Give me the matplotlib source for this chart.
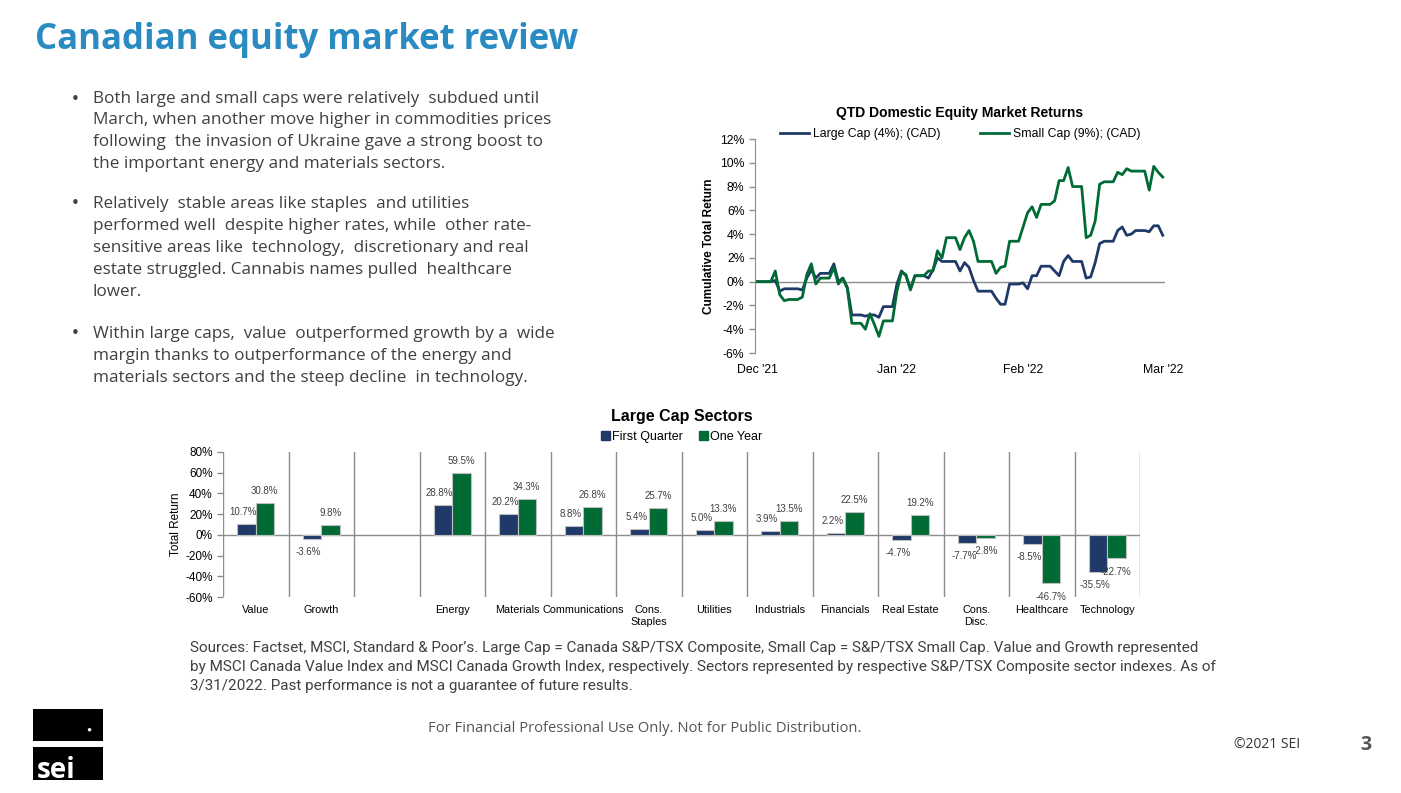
import numpy as np
import pandas as pd
import matplotlib
matplotlib.use('Agg')
import matplotlib.pyplot as plt
import matplotlib.dates as mdates
from matplotlib.patches import Patch, Rectangle
from matplotlib.ticker import FuncFormatter

# ==========================================
# data
# ==========================================
# QTD cumulative returns (%), days since 2021-12-31
day_offsets = [0, 3, 4, 5, 6, 7, 9, 10, 11, 12, 13, 14, 16, 17, 18, 19, 20, 21, 23, 24,
               25, 26, 27, 28, 30, 31, 32, 33, 34, 35, 37, 38, 39, 40, 41, 42, 44, 45, 46, 47,
               48, 49, 52, 53, 54, 55, 56, 58, 59, 60, 61, 62, 63, 65, 66, 67, 68, 69, 70, 72,
               73, 74, 75, 76, 77, 79, 80, 81, 82, 83, 84, 86, 87, 88, 89, 90]
large_cap = [0.0, 0.0, 0.1, -0.8, -0.6, -0.6, -0.6, -0.7, 0.3, 1.0, 0.3, 0.7, 0.7, 1.5, 0.0, 0.3, -0.5, -2.8, -2.8, -2.9,
             -2.8, -2.8, -3.0, -2.1, -2.1, -0.2, 0.9, 0.5, -0.6, 0.5, 0.5, 0.3, 1.0, 2.0, 1.7, 1.7, 1.7, 0.9, 1.6, 1.2,
             0.1, -0.8, -0.8, -1.4, -1.9, -1.9, -0.2, -0.2, -0.1, -0.6, 0.5, 0.5, 1.3, 1.3, 0.9, 0.5, 1.7, 2.2, 1.7, 1.7,
             0.3, 0.4, 1.6, 3.2, 3.4, 3.4, 4.3, 4.6, 3.9, 4.0, 4.3, 4.3, 4.2, 4.7, 4.7, 3.9]
small_cap = [0.0, 0.0, 0.9, -1.1, -1.6, -1.5, -1.5, -1.3, 0.6, 1.5, -0.2, 0.3, 0.3, 1.2, -0.2, 0.3, -0.6, -3.5, -3.5, -4.0,
             -2.7, -3.6, -4.6, -3.3, -3.3, -0.8, 0.8, 0.6, -0.7, 0.5, 0.5, 0.9, 0.9, 2.6, 2.0, 3.7, 3.7, 2.7, 3.7, 4.3,
             3.4, 1.7, 1.7, 0.7, 1.2, 1.3, 3.4, 3.4, 4.6, 5.8, 6.3, 5.4, 6.5, 6.5, 6.8, 8.5, 8.5, 9.6, 8.0, 8.0,
             3.7, 3.9, 5.1, 8.2, 8.4, 8.4, 9.2, 9.0, 9.5, 9.3, 9.3, 9.3, 7.7, 9.7, 9.2, 8.8]
month_ticks = ['2021-12-31', '2022-01-31', '2022-02-28', '2022-03-31']

# Large cap sectors (%)
sectors = ['Value', 'Growth', '', 'Energy', 'Materials', 'Communications', 'Cons.\nStaples',
           'Utilities', 'Industrials', 'Financials', 'Real Estate', 'Cons.\nDisc.', 'Healthcare', 'Technology']
first_quarter = [10.7, -3.6, np.nan, 28.8, 20.2, 8.8, 5.4, 5.0, 3.9, 2.2, -4.7, -7.7, -8.5, -35.5]
one_year = [30.8, 9.8, np.nan, 59.5, 34.3, 26.8, 25.7, 13.3, 13.5, 22.5, 19.2, -2.8, -46.7, -22.7]

bullets = [
    ["Both large and small caps were relatively  subdued until",
     "March, when another move higher in commodities prices",
     "following  the invasion of Ukraine gave a strong boost to",
     "the important energy and materials sectors."],
    ["Relatively  stable areas like staples  and utilities",
     "performed well  despite higher rates, while  other rate-",
     "sensitive areas like  technology,  discretionary and real",
     "estate struggled. Cannabis names pulled  healthcare",
     "lower."],
    ["Within large caps,  value  outperformed growth by a  wide",
     "margin thanks to outperformance of the energy and",
     "materials sectors and the steep decline  in technology."],
]
source_lines = [
    "Sources: Factset, MSCI, Standard & Poor\u2019s. Large Cap = Canada S&P/TSX Composite, Small Cap = S&P/TSX Small Cap. Value and Growth represented",
    "by MSCI Canada Value Index and MSCI Canada Growth Index, respectively. Sectors represented by respective S&P/TSX Composite sector indexes. As of",
    "3/31/2022. Past performance is not a guarantee of future results.",
]

NAVY = '#1F3A68'
GREEN = '#006B35'
GRAY = '#8C8C8C'
TXT = '#404040'

W, H = 1401, 793
plt.rcParams['font.family'] = ['Liberation Sans', 'DejaVu Sans']
fig = plt.figure(figsize=(W / 100, H / 100), dpi=100)


def fx(x):
    return x / W


def fy(y):
    return 1 - y / H


# ==========================================
# header / text
# ==========================================
fig.text(fx(35), fy(40), "Canadian equity market review", fontsize=25, fontweight='bold',
         color='#2A8AC2', family=['Open Sans', 'DejaVu Sans'], va='center', ha='left')

bullet_y = [[99, 120, 142, 164], [204, 226, 248, 270, 292], [334, 356, 378]]
for lines, ys in zip(bullets, bullet_y):
    fig.text(fx(75), fy(ys[0]), "\u2022", fontsize=11, color=TXT, va='center', ha='center',
             family=['DejaVu Sans'])
    for line, y in zip(lines, ys):
        fig.text(fx(93), fy(y), line, fontsize=12.3, color=TXT, va='center', ha='left',
                 family=['Open Sans', 'DejaVu Sans'])

for line, y in zip(source_lines, [648, 667, 686]):
    fig.text(fx(190), fy(y), line, fontsize=11.0, color=TXT, va='center', ha='left',
             family=['Liberation Sans Narrow', 'Roboto', 'DejaVu Sans'])

fig.text(fx(645), fy(728), "For Financial Professional Use Only. Not for Public Distribution.",
         fontsize=10.6, color='#555555', ha='center', va='center', family=['Open Sans', 'DejaVu Sans'])
fig.text(fx(1267), fy(745), "\u00a92021 SEI", fontsize=10, color='#333333', ha='center', va='center',
         family=['Open Sans', 'DejaVu Sans'])
fig.text(fx(1366), fy(745), "3", fontsize=14, fontweight='bold', color='#555555', ha='center', va='center',
         family=['Open Sans', 'DejaVu Sans'])

# SEI logo
fig.patches.append(Rectangle((fx(33), fy(741)), fx(70), 32 / H, transform=fig.transFigure,
                             facecolor='black', edgecolor='none'))
fig.patches.append(Rectangle((fx(33), fy(780)), fx(70), 33 / H, transform=fig.transFigure,
                             facecolor='black', edgecolor='none'))
fig.text(fx(89), fy(730), "\u25cf", fontsize=6, color='white', ha='center', va='center')
fig.text(fx(56), fy(771), "sei", fontsize=20, fontweight='bold', color='white', ha='center', va='center',
         family=['Open Sans', 'DejaVu Sans'])

# ==========================================
# line chart
# ==========================================
dates = pd.Timestamp('2021-12-31') + pd.to_timedelta(day_offsets, unit='D')
ax1 = fig.add_axes([fx(755), fy(353), fx(1165 - 755), (353 - 139) / H])
ax1.plot(dates, large_cap, color=NAVY, lw=2.0, label='Large Cap (4%); (CAD)')
ax1.plot(dates, small_cap, color=GREEN, lw=2.0, label='Small Cap (9%); (CAD)')
ax1.axhline(0, color=GRAY, lw=1, zorder=0)
ax1.set_ylim(-6, 12)
ax1.set_yticks(range(-6, 13, 2))
ax1.yaxis.set_major_formatter(FuncFormatter(lambda v, p: f"{v:.0f}%"))
ax1.set_xlim(pd.Timestamp(month_ticks[0]) - pd.Timedelta(days=0.5), pd.Timestamp(month_ticks[-1]) + pd.Timedelta(days=0.5))
ax1.set_xticks(pd.to_datetime(month_ticks))
ax1.xaxis.set_major_formatter(mdates.DateFormatter("%b '%y"))
for s in ['top', 'right', 'bottom']:
    ax1.spines[s].set_visible(False)
ax1.spines['left'].set_color(GRAY)
ax1.tick_params(axis='y', colors=GRAY, labelcolor='black', labelsize=8.8, length=4, width=1)
ax1.tick_params(axis='x', length=0, labelsize=8.8, pad=8)
ax1.set_ylabel("Cumulative Total Return", fontsize=8.5, fontweight='bold', labelpad=4)
ax1.set_title("QTD Domestic Equity Market Returns", fontsize=10, fontweight='bold', pad=16)
ax1.legend(loc='lower center', bbox_to_anchor=(0.5, 0.965), ncol=2, frameon=False, fontsize=8.8,
           handlelength=2.4, columnspacing=3.2, borderpad=0, handletextpad=0.3)

# ==========================================
# bar chart
# ==========================================
ax2 = fig.add_axes([fx(223), fy(597), fx(1140 - 223), (597 - 452) / H])
x = np.arange(len(sectors))
bw = 0.28
ax2.bar(x - bw / 2, first_quarter, bw, color=NAVY, edgecolor='#BFBFBF', lw=0.8, label='First Quarter', zorder=3)
ax2.bar(x + bw / 2, one_year, bw, color=GREEN, edgecolor='#BFBFBF', lw=0.8, label='One Year', zorder=3)
for xi, (q, y1) in enumerate(zip(first_quarter, one_year)):
    if np.isnan(q):
        continue
    for off, v in [(-bw / 2 - 0.05, q), (bw / 2, y1)]:
        va = 'bottom' if v >= 0 else 'top'
        dy = 5 if v >= 0 else -6
        ax2.annotate(f"{v:.1f}%", (xi + off, v), xytext=(0, dy), textcoords='offset points',
                     ha='center', va=va, fontsize=7, color=TXT)
ax2.axhline(0, color=GRAY, lw=1, zorder=2)
for b in np.arange(len(sectors) + 1) - 0.5:
    ax2.axvline(b, color=GRAY, lw=1, zorder=1)
ax2.set_xlim(-0.5, len(sectors) - 0.5)
ax2.set_ylim(-60, 80)
ax2.set_yticks(range(-60, 81, 20))
ax2.yaxis.set_major_formatter(FuncFormatter(lambda v, p: f"{v:.0f}%"))
ax2.set_xticks(x)
ax2.set_xticklabels(sectors, fontsize=7.8, linespacing=1.15, va='top')
for s in ['top', 'right', 'bottom', 'left']:
    ax2.spines[s].set_visible(False)
ax2.tick_params(axis='y', colors=GRAY, labelcolor='black', labelsize=8.5, length=4, width=1)
ax2.tick_params(axis='x', length=0, pad=6)
ax2.set_ylabel("Total Return", fontsize=8.5, labelpad=2)
ax2.set_title("Large Cap Sectors", fontsize=11.5, fontweight='bold', pad=22)
ax2.legend(handles=[Patch(color=NAVY, label='First Quarter'), Patch(color=GREEN, label='One Year')],
           loc='lower center', bbox_to_anchor=(0.5, 1.01), ncol=2, frameon=False, fontsize=9,
           handlelength=0.7, handleheight=0.7, handletextpad=0.15, columnspacing=1.3, borderpad=0.1)

fig.savefig('out.png', dpi=100)
